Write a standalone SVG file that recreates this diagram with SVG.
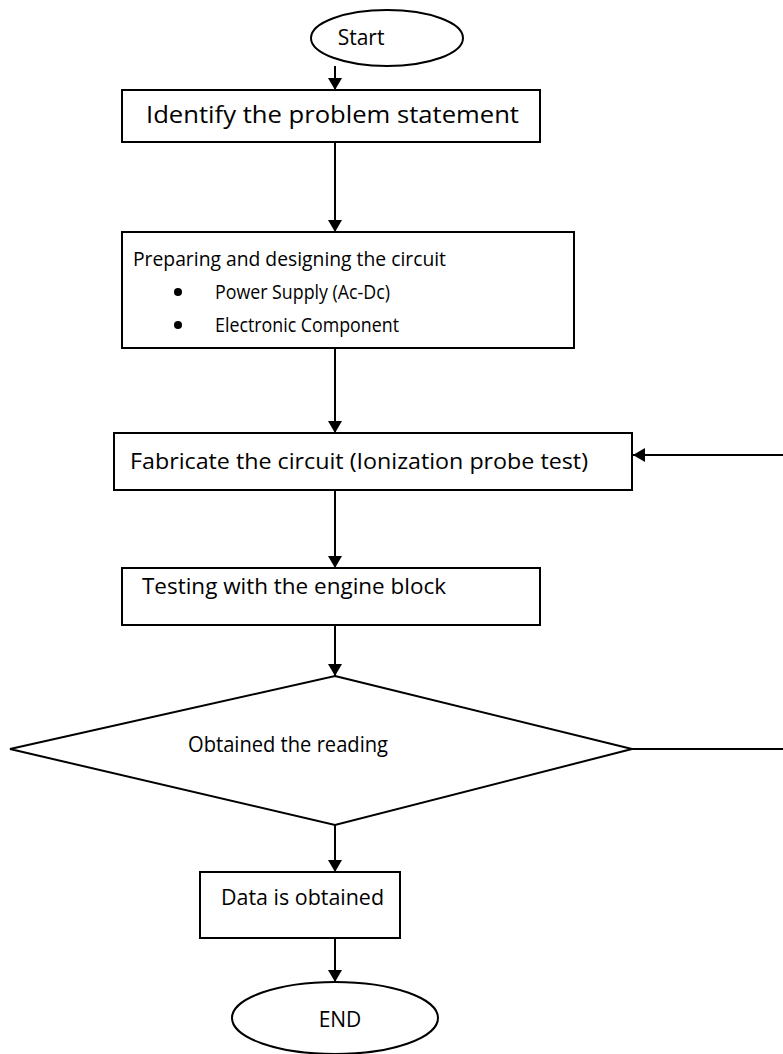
<svg xmlns="http://www.w3.org/2000/svg" width="783" height="1054" viewBox="0 0 783 1054">
<defs>
<marker id="ah" viewBox="0 0 12 14" refX="12" refY="7" markerWidth="12" markerHeight="14" markerUnits="userSpaceOnUse" orient="auto">
<path d="M0,0 L12,7 L0,14 Z" fill="#000"/>
</marker>
</defs>
<style>
.s{fill:#fff;stroke:#000;stroke-width:2}
.t{font-family:"Open Sans","Noto Sans",sans-serif;font-size:21px;fill:#000}
.c{fill:none;stroke:#000;stroke-width:2}
</style>
<rect width="783" height="1054" fill="#fff"/>
<g id="connectors">
<line class="c" x1="335" y1="66" x2="335" y2="90" marker-end="url(#ah)"/>
<line class="c" x1="335" y1="142" x2="335" y2="232" marker-end="url(#ah)"/>
<line class="c" x1="335" y1="348" x2="335" y2="433" marker-end="url(#ah)"/>
<line class="c" x1="335" y1="490" x2="335" y2="568" marker-end="url(#ah)"/>
<line class="c" x1="335" y1="625" x2="335" y2="676" marker-end="url(#ah)"/>
<line class="c" x1="335" y1="825" x2="335" y2="872" marker-end="url(#ah)"/>
<line class="c" x1="335" y1="938" x2="335" y2="982" marker-end="url(#ah)"/>
<line class="c" x1="632" y1="749" x2="783" y2="749"/>
<line class="c" x1="783" y1="455" x2="633" y2="455" marker-end="url(#ah)"/>
</g>
<g id="start">
<ellipse class="s" cx="387" cy="38" rx="76" ry="28"/>
<text class="t" x="361" y="45" text-anchor="middle">Start</text>
</g>
<g id="identify">
<rect class="s" x="122" y="90" width="418" height="52"/>
<text class="t" x="146" y="123" style="font-size:23px" textLength="373" lengthAdjust="spacingAndGlyphs">Identify the problem statement</text>
</g>
<g id="prepare">
<rect class="s" x="122" y="232" width="452" height="116"/>
<text class="t" x="133" y="266" style="font-size:20px" textLength="313" lengthAdjust="spacingAndGlyphs">Preparing and designing the circuit</text>
<circle cx="178" cy="292" r="4" fill="#000"/>
<text class="t" x="215" y="299" style="font-size:20px" textLength="175" lengthAdjust="spacingAndGlyphs">Power Supply (Ac-Dc)</text>
<circle cx="178" cy="325" r="4" fill="#000"/>
<text class="t" x="215" y="332" style="font-size:20px" textLength="184" lengthAdjust="spacingAndGlyphs">Electronic Component</text>
</g>
<g id="fabricate">
<rect class="s" x="114" y="433" width="518" height="57"/>
<text class="t" x="130" y="469" textLength="458" lengthAdjust="spacingAndGlyphs">Fabricate the circuit (Ionization probe test)</text>
</g>
<g id="testing">
<rect class="s" x="122" y="568" width="418" height="57"/>
<text class="t" x="142" y="594" textLength="304" lengthAdjust="spacingAndGlyphs">Testing with the engine block</text>
</g>
<g id="decision">
<polygon class="s" points="335,676 632,749 335,825 10,749"/>
<text class="t" x="188" y="752" textLength="200" lengthAdjust="spacingAndGlyphs">Obtained the reading</text>
</g>
<g id="data">
<rect class="s" x="200" y="872" width="200" height="66"/>
<text class="t" x="221" y="905" textLength="163" lengthAdjust="spacingAndGlyphs">Data is obtained</text>
</g>
<g id="end">
<ellipse class="s" cx="335" cy="1018" rx="103" ry="36"/>
<text class="t" x="340" y="1027" text-anchor="middle">END</text>
</g>
</svg>
